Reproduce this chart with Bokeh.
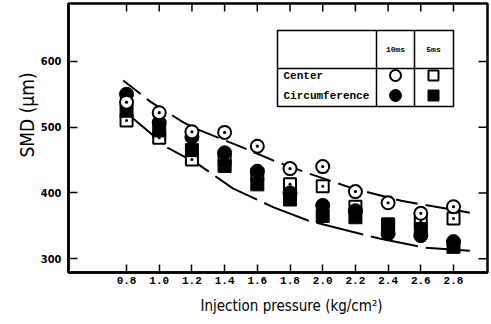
import math
from bokeh.plotting import figure
from bokeh.models import FixedTicker, Range1d, Title
from bokeh.core.properties import value
from bokeh.embed import file_html
from bokeh.resources import INLINE

# ---- data ----
pressure = [0.8, 1.0, 1.2, 1.4, 1.6, 1.8, 2.0, 2.2, 2.4, 2.6, 2.8]
x_tick_labels = ["0.8", "1.0", "1.2", "1.4", "1.6", "1.8", "2.0", "2.2", "2.4", "2.6", "2.8"]
y_ticks = [300, 400, 500, 600]

center_10ms = [538, 522, 493, 492, 471, 437, 440, 402, 385, 369, 379]
center_5ms = [510, 484, 451, 450, 428, 413, 410, 379, 352, 357, 361]
circ_10ms = [550, 507, 485, 461, 433, 400, 381, 373, 338, 335, 326]
circ_5ms = [525, 495, 465, 441, 413, 390, 365, 363, 352, 345, 318]

upper_x = [0.78, 0.95, 1.15, 1.25, 1.52, 1.70, 1.91, 2.17, 2.48, 2.90]
upper_y = [571, 538, 507, 495, 468, 449, 430, 408, 388, 370]
lower_x = [0.78, 0.84, 1.05, 1.23, 1.45, 1.70, 1.91, 2.15, 2.34, 2.62, 2.90]
lower_y = [521, 513, 469, 445, 407, 378, 358, 343, 331, 317, 312]

W, H = 491, 324
L, R, T, B = 68, 4, 3, 52
x0, x1 = 0.445, 3.008
y0, y1 = 279, 688

p = figure(width=W, height=H, output_backend="svg", toolbar_location=None,
           x_range=Range1d(x0, x1), y_range=Range1d(y0, y1),
           min_border_left=L, min_border_right=R, min_border_top=T, min_border_bottom=B)
p.xgrid.visible = False
p.ygrid.visible = False
p.outline_line_color = "black"
p.outline_line_width = 2.5
p.background_fill_color = "white"
p.border_fill_color = "white"

fw = W - L - R
fh = H - T - B
def px2x(px):
    return x0 + (px - L) / fw * (x1 - x0)
def py2y(py):
    return y1 - (py - T) / fh * (y1 - y0)
dx_px = (x1 - x0) / fw
dy_px = (y1 - y0) / fh

tick_font = "Liberation Mono"
cond_font = "DejaVu Sans Condensed"

# bottom axis
xa = p.xaxis[0]
xa.ticker = FixedTicker(ticks=pressure)
xa.major_label_overrides = {v: s for v, s in zip(pressure, x_tick_labels)}
xa.major_tick_in = 8
xa.major_tick_out = 0
xa.minor_tick_line_color = None
xa.major_tick_line_width = 1.5
xa.axis_line_width = 2.5
xa.major_label_standoff = 4
xa.major_label_text_font = tick_font
xa.major_label_text_font_style = "bold"
xa.major_label_text_font_size = "11px"
xa.major_label_text_color = "black"

# left axis
ya = p.yaxis[0]
ya.ticker = FixedTicker(ticks=y_ticks)
ya.major_tick_in = 9
ya.major_tick_out = 0
ya.minor_tick_line_color = None
ya.major_tick_line_width = 1.5
ya.axis_line_width = 2.5
ya.major_label_standoff = 7
ya.major_label_text_font = cond_font
ya.major_label_text_font_style = "bold"
ya.major_label_text_font_size = "11px"
ya.major_label_text_color = "black"

# top and right inward ticks
p.segment(x0=pressure, y0=[y1] * len(pressure), x1=pressure,
          y1=[y1 - 8 * dy_px] * len(pressure), line_color="black", line_width=1.5)
p.segment(x0=[x1] * len(y_ticks), y0=y_ticks, x1=[x1 - 9 * dx_px] * len(y_ticks),
          y1=y_ticks, line_color="black", line_width=1.5)

# curves
p.line(upper_x, upper_y, line_color="black", line_width=2, line_dash="22 8")
p.line(lower_x, lower_y, line_color="black", line_width=2, line_dash="48 8")

# markers
p.scatter(pressure, center_5ms, marker="square_dot", size=12, line_color="black",
          line_width=2, fill_color="white")
p.scatter(pressure, circ_5ms, marker="square", size=13, line_color="black",
          fill_color="black")
p.scatter(pressure, circ_10ms, marker="circle", size=14, line_color="black",
          fill_color="black")
p.scatter(pressure, center_10ms, marker="circle_dot", size=13, line_color="black",
          line_width=2, fill_color="white")

# axis titles
p.add_layout(Title(text="Injection pressure (kg/cm²)", align="left", offset=132,
                   text_font=cond_font, text_font_size="15px",
                   text_font_style="normal", text_color="black", standoff=0,
                   padding=(0, 8)), "below")
p.add_layout(Title(text="SMD (μm)", align="left", offset=115,
                   text_font=cond_font, text_font_size="19px",
                   text_font_style="normal", text_color="black", standoff=0), "left")

# legend table
bx0, bx1, by0, by1 = 277, 453, 30, 106
hdiv, v1, v2 = 68, 376, 414
p.quad(left=[px2x(bx0)], right=[px2x(bx1)], top=[py2y(by0)], bottom=[py2y(by1)],
       fill_color="white", line_color="black", line_width=1.5)
p.segment(x0=[px2x(bx0), px2x(v1), px2x(v2)], y0=[py2y(hdiv), py2y(by0), py2y(by0)],
          x1=[px2x(bx1), px2x(v1), px2x(v2)], y1=[py2y(hdiv), py2y(by1), py2y(by1)],
          line_color="black", line_width=1.5)
p.text(x=[px2x(395), px2x(433)], y=[py2y(49), py2y(49)], text=["10ms", "5ms"],
       text_font=value(tick_font), text_font_style="bold", text_font_size="8px",
       text_align="center", text_baseline="middle", text_color="black")
p.text(x=[px2x(283), px2x(283)], y=[py2y(75), py2y(95)], text=["Center", "Circumference"],
       text_font=value(tick_font), text_font_style="bold", text_font_size="11px",
       text_align="left", text_baseline="middle", text_color="black")
p.scatter([px2x(395)], [py2y(75)], marker="circle", size=11, line_width=2,
          line_color="black", fill_color="white")
p.scatter([px2x(433)], [py2y(75)], marker="square", size=10, line_width=2,
          line_color="black", fill_color="white")
p.scatter([px2x(395)], [py2y(95)], marker="circle", size=12, line_color="black",
          fill_color="black")
p.scatter([px2x(433)], [py2y(95)], marker="square", size=11, line_color="black",
          fill_color="black")

html = file_html(p, INLINE)
html = html.replace("<head>", "<head><style>html,body{margin:0;padding:0;}</style>", 1)
open("out.html", "w").write(html)
